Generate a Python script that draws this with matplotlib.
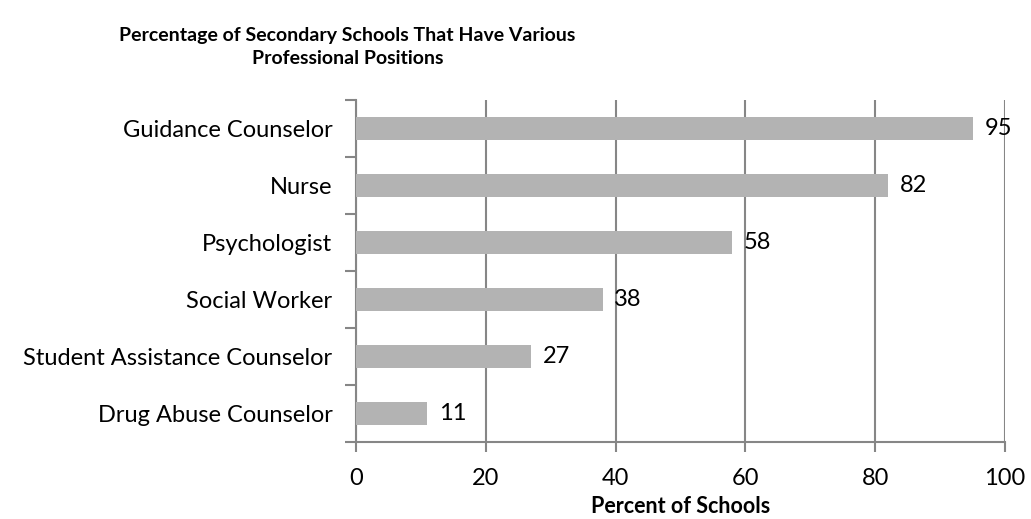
import matplotlib.pyplot as plt
import numpy as np

# data
categorias = ["Guidance Counselor", "Nurse", "Psychologist", "Social Worker",
              "Student Assistance Counselor", "Drug Abuse Counselor"]
valores = [95, 82, 58, 38, 27, 11]
xticks = [0, 20, 40, 60, 80, 100]

plt.rcParams['font.family'] = ['Lato', 'DejaVu Sans']

fig = plt.figure(figsize=(10.31, 5.19), dpi=100)
ax = fig.add_axes([0.3453, 0.1484, 0.6295, 0.6589])

y = np.arange(len(categorias))[::-1]
ax.barh(y, valores, height=0.39, color='#b3b3b3', zorder=3)

for yi, v in zip(y, valores):
    ax.text(v + 1.8, yi, str(v), va='center', ha='left', fontsize=17, zorder=4)

ax.set_xlim(0, 100)
ax.set_ylim(-0.5, len(categorias) - 0.5)
ax.set_xticks(xticks)
ax.set_yticks(y)
ax.set_yticklabels(categorias, fontsize=17)
ax.set_yticks(np.arange(-0.5, len(categorias), 1), minor=True)
ax.tick_params(axis='y', which='major', length=0, pad=17)
ax.tick_params(axis='y', which='minor', length=8, width=1.5, color='#868686')
ax.tick_params(axis='x', length=7, width=1.5, color='#868686', labelsize=17, pad=12)

ax.grid(axis='x', color='#868686', linewidth=1.5, zorder=0)
for s in ['top', 'right']:
    ax.spines[s].set_visible(False)
for s in ['left', 'bottom']:
    ax.spines[s].set_color('#868686')
    ax.spines[s].set_linewidth(1.5)

ax.set_xlabel("Percent of Schools", fontsize=15.5, fontweight='bold', labelpad=5)
fig.text(0.337, 0.91, "Percentage of Secondary Schools That Have Various\nProfessional Positions",
         ha='center', va='center', fontsize=14, fontweight='bold', linespacing=1.4)

fig.savefig("out.png", dpi=100)
